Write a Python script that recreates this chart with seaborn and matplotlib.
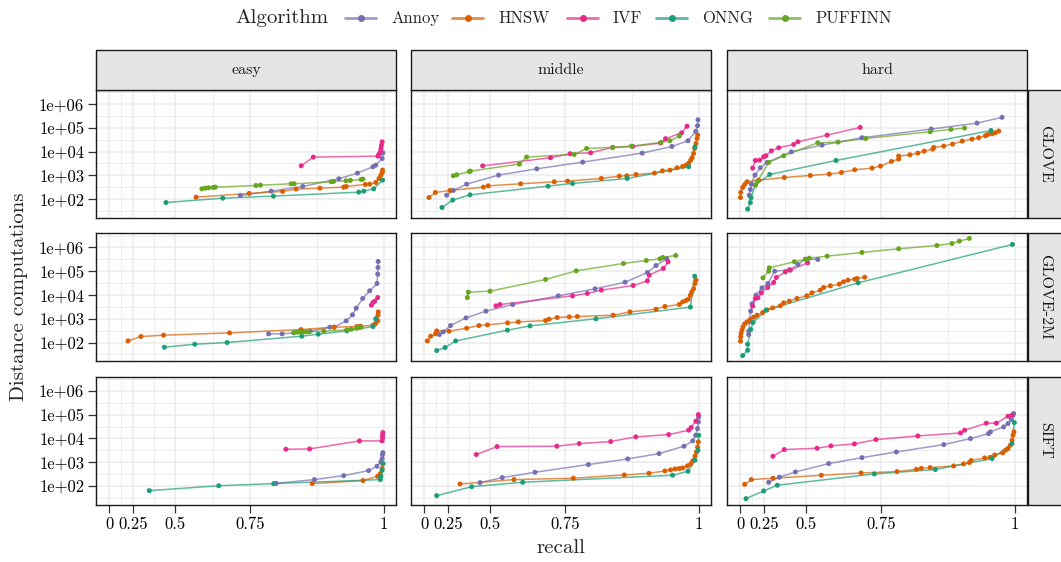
import numpy as np
import pandas as pd
import matplotlib
matplotlib.use("Agg")
import matplotlib.pyplot as plt
import seaborn as sns
from matplotlib.patches import Rectangle
from matplotlib.lines import Line2D

# ---------------- categories / labels ----------------
ALGORITHMS = ["Annoy", "HNSW", "IVF", "ONNG", "PUFFINN"]
COLORS = ["#7570B3", "#D95F02", "#E7298A", "#1B9E77", "#66A61E"]
DIFFICULTIES = ["easy", "middle", "hard"]
DATASETS = ["GLOVE", "GLOVE-2M", "SIFT"]
X_TICKS = [0, 0.25, 0.5, 0.75, 1]
X_TICK_LABELS = ["0", "0.25", "0.5", "0.75", "1"]
Y_TICKS = [1e2, 1e3, 1e4, 1e5, 1e6]
Y_TICK_LABELS = ["1e+02", "1e+03", "1e+04", "1e+05", "1e+06"]
X_LABEL = "recall"
Y_LABEL = "Distance computations"
LEGEND_TITLE = "Algorithm"

# ---------------- data: GLOVE ----------------
glove_easy_annoy_recall = [0.724, 0.800, 0.866, 0.931, 0.961, 0.9845, 0.9885, 0.9978, 0.9989]
glove_easy_annoy_dist = [143, 217, 341, 718, 1245, 2300, 2690, 5130, 8900]
glove_easy_hnsw_recall = [0.585, 0.747, 0.825, 0.853, 0.898, 0.939, 0.943, 0.973, 0.9796, 0.9886, 0.9933, 0.996, 0.998, 0.9984]
glove_easy_hnsw_dist = [121, 174, 211, 264, 290, 320, 341, 414, 428, 501, 740, 1025, 1325, 1660]
glove_easy_ivf_recall = [0.863, 0.886, 0.9918, 0.9933, 0.9952, 0.9961, 0.9968, 0.9978]
glove_easy_ivf_dist = [2520, 5860, 6460, 7850, 9800, 13500, 18600, 25700]
glove_easy_onng_recall = [0.456, 0.674, 0.805, 0.963, 0.9706, 0.9855, 0.9984]
glove_easy_onng_dist = [72, 110, 134, 197, 217, 272, 631]
glove_easy_puffinn_recall = [0.606, 0.618, 0.629, 0.644, 0.651, 0.764, 0.775, 0.843, 0.849, 0.918, 0.922, 0.9426, 0.9496, 0.9665, 0.9694]
glove_easy_puffinn_dist = [272, 290, 300, 309, 320, 376, 388, 442, 442, 537, 555, 592, 611, 673, 695]

glove_middle_annoy_recall = [0.239, 0.290, 0.378, 0.536, 0.671, 0.792, 0.911, 0.960, 0.9845, 0.9958, 0.9984, 0.999]
glove_middle_annoy_dist = [147, 232, 428, 1025, 1890, 3610, 8650, 16500, 28600, 70800, 123000, 219000]
glove_middle_hnsw_recall = [0.062, 0.134, 0.265, 0.468, 0.491, 0.619, 0.721, 0.756, 0.833, 0.869, 0.883, 0.900, 0.932, 0.945, 0.957, 0.968, 0.9766, 0.9816, 0.9855, 0.9885, 0.9906, 0.9927, 0.9943, 0.9961, 0.9976, 0.9986]
glove_middle_hnsw_dist = [117, 191, 232, 320, 364, 442, 537, 573, 741, 929, 960, 1090, 1245, 1550, 1660, 2090, 2370, 2690, 3280, 4370, 5500, 8350, 13600, 21900, 35800, 49500]
glove_middle_ivf_recall = [0.4645, 0.711, 0.762, 0.810, 0.856, 0.894, 0.942, 0.950, 0.975, 0.983]
glove_middle_ivf_dist = [2520, 5500, 8130, 8940, 15000, 16500, 22900, 35000, 62000, 117000]
glove_middle_onng_recall = [0.1985, 0.2855, 0.3976, 0.704, 0.768, 0.884, 0.9855, 0.9947]
glove_middle_onng_dist = [44.5, 91, 152, 352, 457, 741, 2300, 15900]
glove_middle_puffinn_recall = [0.290, 0.314, 0.394, 0.400, 0.6146, 0.639, 0.772, 0.801, 0.856, 0.892, 0.9427, 0.957, 0.9715]
glove_middle_puffinn_dist = [960, 1060, 1460, 1510, 2980, 5870, 7600, 13600, 15000, 17000, 24300, 28600, 45000]

glove_hard_annoy_recall = [0.112, 0.123, 0.134, 0.1706, 0.219, 0.273, 0.427, 0.566, 0.698, 0.861, 0.9427, 0.9816]
glove_hard_annoy_dist = [147, 255, 428, 1025, 2090, 3500, 9800, 18800, 38400, 88500, 158000, 276000]
glove_hard_hnsw_recall = [0.002, 0.005, 0.032, 0.058, 0.086, 0.204, 0.388, 0.518, 0.593, 0.635, 0.677, 0.726, 0.748, 0.775, 0.792, 0.792, 0.817, 0.834, 0.847, 0.864, 0.866, 0.885, 0.901, 0.918, 0.9345, 0.9455, 0.956, 0.960, 0.9665, 0.9715, 0.9766]
glove_hard_hnsw_dist = [117, 191, 309, 414, 537, 631, 813, 990, 1130, 1325, 1720, 2020, 2450, 3860, 4830, 6460, 7360, 8650, 10500, 12700, 15000, 17000, 20700, 27600, 33600, 38400, 46400, 52500, 56200, 62000, 72900]
glove_hard_ivf_recall = [0.1476, 0.174, 0.213, 0.247, 0.265, 0.305, 0.354, 0.439, 0.461, 0.585, 0.693]
glove_hard_ivf_dist = [2020, 4240, 4370, 6030, 6680, 10800, 14500, 20000, 25900, 49500, 104000]
glove_hard_onng_recall = [0.0936, 0.123, 0.130, 0.174, 0.293, 0.617, 0.9649]
glove_hard_onng_dist = [38, 72, 114, 389, 1090, 4250, 77000]
glove_hard_puffinn_recall = [0.174, 0.1955, 0.2855, 0.384, 0.549, 0.6237, 0.709, 0.859, 0.898, 0.922]
glove_hard_puffinn_dist = [389, 573, 3500, 6680, 23500, 25100, 35800, 68400, 85700, 97700]

# ---------------- data: GLOVE-2M ----------------
glove2m_easy_annoy_recall = [0.794, 0.824, 0.848, 0.8645, 0.880, 0.9155, 0.923, 0.943, 0.953, 0.959, 0.969, 0.9796, 0.9904, 0.9914, 0.9918, 0.9920]
glove2m_easy_annoy_dist = [232, 232, 255, 282, 300, 442, 442, 817, 1460, 2790, 7130, 15000, 30500, 75400, 144000, 257000]
glove2m_easy_hnsw_recall = [0.207, 0.309, 0.444, 0.694, 0.8626, 0.923, 0.960, 0.9655, 0.9845, 0.988, 0.9914, 0.9918, 0.9922]
glove2m_easy_hnsw_dist = [117, 179, 204, 255, 352, 442, 472, 487, 537, 611, 817, 1415, 1950]
glove2m_easy_ivf_recall = [0.982, 0.9845, 0.987, 0.9914]
glove2m_easy_ivf_dist = [3730, 4830, 5500, 7850]
glove2m_easy_onng_recall = [0.448, 0.580, 0.687, 0.864, 0.895, 0.944, 0.9845, 0.9885]
glove2m_easy_onng_dist = [63.5, 85, 100, 185, 224, 309, 472, 1000]
glove2m_easy_puffinn_recall = [0.849, 0.856, 0.863, 0.871, 0.877, 0.905, 0.944, 0.951, 0.960, 0.964, 0.9665]
glove2m_easy_puffinn_dist = [264, 272, 272, 282, 282, 300, 341, 364, 400, 428, 442]

glove2m_middle_annoy_recall = [0.174, 0.210, 0.270, 0.374, 0.480, 0.591, 0.732, 0.8195, 0.880, 0.920, 0.9345, 0.952]
glove2m_middle_annoy_dist = [217, 282, 520, 1090, 2090, 3980, 9220, 18200, 34700, 88500, 174000, 333000]
glove2m_middle_hnsw_recall = [0.041, 0.082, 0.137, 0.1476, 0.2575, 0.378, 0.446, 0.487, 0.572, 0.611, 0.697, 0.707, 0.729, 0.760, 0.7795, 0.857, 0.889, 0.9345, 0.949, 0.9715, 0.9766, 0.9816, 0.985, 0.988, 0.9901, 0.9927, 0.9947, 0.9961]
glove2m_middle_hnsw_dist = [117, 185, 232, 309, 300, 400, 520, 555, 673, 741, 843, 960, 1130, 1200, 1245, 1415, 1950, 2510, 3280, 3980, 5150, 5870, 6680, 9840, 13600, 18600, 30500, 42200]
glove2m_middle_ivf_recall = [0.525, 0.542, 0.768, 0.8026, 0.833, 0.895, 0.920, 0.923, 0.9465, 0.954]
glove2m_middle_ivf_dist = [3500, 3980, 9220, 11600, 16000, 25100, 39500, 68400, 131000, 249000]
glove2m_middle_onng_recall = [0.1476, 0.225, 0.307, 0.571, 0.650, 0.8216, 0.988, 0.9943]
glove2m_middle_onng_dist = [46, 61.6, 117, 331, 501, 1000, 3090, 61700]
glove2m_middle_puffinn_recall = [0.382, 0.388, 0.499, 0.697, 0.777, 0.877, 0.918, 0.941, 0.9455, 0.966]
glove2m_middle_puffinn_dist = [7850, 13200, 14500, 45000, 104000, 212000, 283000, 333000, 379000, 460000]

glove2m_hard_annoy_recall = [0.105, 0.105, 0.116, 0.127, 0.1407, 0.180, 0.233, 0.280, 0.3275, 0.416, 0.461, 0.496, 0.549]
glove2m_hard_annoy_dist = [217, 300, 794, 2090, 4250, 9840, 20000, 30500, 100000, 115000, 192000, 324000, 313000]
glove2m_hard_hnsw_recall = [0.002, 0.005, 0.0094, 0.023, 0.0365, 0.058, 0.086, 0.123, 0.1576, 0.1896, 0.239, 0.273, 0.314, 0.364, 0.384, 0.416, 0.456, 0.503, 0.525, 0.559, 0.572, 0.597, 0.628, 0.642, 0.656, 0.677, 0.684, 0.706]
glove2m_hard_hnsw_dist = [114, 174, 240, 331, 457, 611, 741, 929, 1170, 1415, 1820, 2370, 2880, 3500, 4680, 5500, 7130, 9220, 12300, 16000, 20700, 24300, 28600, 35800, 42200, 46400, 49500, 56200]
glove2m_hard_ivf_recall = [0.1476, 0.174, 0.1985, 0.2275, 0.278, 0.321, 0.3386, 0.394, 0.4217, 0.506]
glove2m_hard_ivf_dist = [3390, 7130, 7600, 12300, 20700, 33600, 54600, 94400, 111000, 226000]
glove2m_hard_onng_recall = [0.032, 0.0936, 0.0936, 0.127, 0.151, 0.265, 0.687, 0.9968]
glove2m_hard_onng_dist = [28.4, 47.5, 85, 352, 692, 2290, 32500, 1340000]
glove2m_hard_puffinn_recall = [0.2414, 0.2855, 0.290, 0.4427, 0.499, 0.514, 0.585, 0.698, 0.792, 0.872, 0.900, 0.913, 0.930]
glove2m_hard_puffinn_dist = [52800, 100000, 139000, 251000, 313000, 355000, 431000, 616000, 880000, 1210000, 1470000, 1850000, 2400000]

# ---------------- data: SIFT ----------------
sift_easy_annoy_recall = [0.811, 0.888, 0.939, 0.978, 0.9904, 0.996, 0.9978, 0.9984, 0.9989]
sift_easy_annoy_dist = [129, 185, 272, 442, 673, 1025, 1415, 2090, 2510]
sift_easy_hnsw_recall = [0.884, 0.9695, 0.9914, 0.9952, 0.9978, 0.9989]
sift_easy_hnsw_dist = [125, 168, 255, 331, 537, 871]
sift_easy_ivf_recall = [0.832, 0.879, 0.964, 0.9978, 0.9984, 0.9984, 0.9989]
sift_easy_ivf_dist = [3500, 3610, 7850, 7850, 10500, 13600, 17600]
sift_easy_onng_recall = [0.364, 0.6615, 0.8056, 0.9952, 0.996, 0.9978, 0.9989]
sift_easy_onng_dist = [63.5, 102, 125, 185, 255, 457, 871]

sift_middle_annoy_recall = [0.451, 0.551, 0.6656, 0.805, 0.885, 0.9395, 0.9786, 0.9914, 0.9957, 0.9984, 0.9995, 1.0]
sift_middle_annoy_dist = [138, 224, 376, 794, 1370, 2290, 4680, 7850, 13600, 25900, 49500, 79400]
sift_middle_hnsw_recall = [0.3365, 0.5955, 0.770, 0.8786, 0.9227, 0.949, 0.958, 0.9649, 0.9715, 0.9766, 0.9835, 0.9884, 0.9914, 0.9947, 0.9968, 0.9984, 0.9995]
sift_middle_hnsw_dist = [121, 185, 211, 290, 341, 428, 472, 520, 537, 573, 695, 843, 1130, 1780, 2690, 4370, 7130]
sift_middle_ivf_recall = [0.432, 0.5295, 0.728, 0.784, 0.852, 0.8996, 0.955, 0.9855, 0.989, 0.996, 0.9995]
sift_middle_ivf_dist = [2090, 4530, 4680, 6030, 7360, 11600, 14500, 22100, 28600, 52800, 100000]
sift_middle_onng_recall = [0.1476, 0.407, 0.626, 0.961, 0.9845, 0.9947, 0.999, 1.0]
sift_middle_onng_dist = [39, 93, 143, 282, 414, 1200, 3160, 13600]

sift_hard_annoy_recall = [0.2855, 0.3576, 0.448, 0.591, 0.698, 0.7866, 0.885, 0.932, 0.961, 0.964, 0.984, 0.9904, 0.9952, 0.9976, 0.9984]
sift_hard_annoy_dist = [143, 232, 389, 871, 1550, 2690, 5500, 9840, 15900, 18800, 30500, 42200, 63100, 94400, 111000]
sift_hard_hnsw_recall = [0.058, 0.134, 0.316, 0.563, 0.6955, 0.788, 0.831, 0.841, 0.859, 0.903, 0.9204, 0.930, 0.933, 0.955, 0.9638, 0.9706, 0.9825, 0.9866, 0.9904, 0.9937, 0.9961, 0.9976, 0.999]
sift_hard_hnsw_dist = [117, 185, 211, 282, 352, 400, 501, 550, 589, 692, 843, 960, 1170, 1510, 1610, 2000, 2450, 3160, 3730, 5150, 8320, 13600, 18800]
sift_hard_ivf_recall = [0.316, 0.3875, 0.546, 0.599, 0.676, 0.7365, 0.834, 0.915, 0.922, 0.9576, 0.973, 0.9904, 0.996]
sift_hard_ivf_dist = [1780, 3390, 3860, 4830, 5860, 8920, 12700, 17000, 22100, 43600, 43600, 85700, 94400]
sift_hard_onng_recall = [0.074, 0.247, 0.345, 0.732, 0.869, 0.9665, 0.996, 0.9995]
sift_hard_onng_dist = [29.3, 61.6, 107, 320, 490, 1415, 6030, 46400]

SERIES = [
    ("GLOVE", "easy", "Annoy", glove_easy_annoy_recall, glove_easy_annoy_dist),
    ("GLOVE", "easy", "HNSW", glove_easy_hnsw_recall, glove_easy_hnsw_dist),
    ("GLOVE", "easy", "IVF", glove_easy_ivf_recall, glove_easy_ivf_dist),
    ("GLOVE", "easy", "ONNG", glove_easy_onng_recall, glove_easy_onng_dist),
    ("GLOVE", "easy", "PUFFINN", glove_easy_puffinn_recall, glove_easy_puffinn_dist),
    ("GLOVE", "middle", "Annoy", glove_middle_annoy_recall, glove_middle_annoy_dist),
    ("GLOVE", "middle", "HNSW", glove_middle_hnsw_recall, glove_middle_hnsw_dist),
    ("GLOVE", "middle", "IVF", glove_middle_ivf_recall, glove_middle_ivf_dist),
    ("GLOVE", "middle", "ONNG", glove_middle_onng_recall, glove_middle_onng_dist),
    ("GLOVE", "middle", "PUFFINN", glove_middle_puffinn_recall, glove_middle_puffinn_dist),
    ("GLOVE", "hard", "Annoy", glove_hard_annoy_recall, glove_hard_annoy_dist),
    ("GLOVE", "hard", "HNSW", glove_hard_hnsw_recall, glove_hard_hnsw_dist),
    ("GLOVE", "hard", "IVF", glove_hard_ivf_recall, glove_hard_ivf_dist),
    ("GLOVE", "hard", "ONNG", glove_hard_onng_recall, glove_hard_onng_dist),
    ("GLOVE", "hard", "PUFFINN", glove_hard_puffinn_recall, glove_hard_puffinn_dist),
    ("GLOVE-2M", "easy", "Annoy", glove2m_easy_annoy_recall, glove2m_easy_annoy_dist),
    ("GLOVE-2M", "easy", "HNSW", glove2m_easy_hnsw_recall, glove2m_easy_hnsw_dist),
    ("GLOVE-2M", "easy", "IVF", glove2m_easy_ivf_recall, glove2m_easy_ivf_dist),
    ("GLOVE-2M", "easy", "ONNG", glove2m_easy_onng_recall, glove2m_easy_onng_dist),
    ("GLOVE-2M", "easy", "PUFFINN", glove2m_easy_puffinn_recall, glove2m_easy_puffinn_dist),
    ("GLOVE-2M", "middle", "Annoy", glove2m_middle_annoy_recall, glove2m_middle_annoy_dist),
    ("GLOVE-2M", "middle", "HNSW", glove2m_middle_hnsw_recall, glove2m_middle_hnsw_dist),
    ("GLOVE-2M", "middle", "IVF", glove2m_middle_ivf_recall, glove2m_middle_ivf_dist),
    ("GLOVE-2M", "middle", "ONNG", glove2m_middle_onng_recall, glove2m_middle_onng_dist),
    ("GLOVE-2M", "middle", "PUFFINN", glove2m_middle_puffinn_recall, glove2m_middle_puffinn_dist),
    ("GLOVE-2M", "hard", "Annoy", glove2m_hard_annoy_recall, glove2m_hard_annoy_dist),
    ("GLOVE-2M", "hard", "HNSW", glove2m_hard_hnsw_recall, glove2m_hard_hnsw_dist),
    ("GLOVE-2M", "hard", "IVF", glove2m_hard_ivf_recall, glove2m_hard_ivf_dist),
    ("GLOVE-2M", "hard", "ONNG", glove2m_hard_onng_recall, glove2m_hard_onng_dist),
    ("GLOVE-2M", "hard", "PUFFINN", glove2m_hard_puffinn_recall, glove2m_hard_puffinn_dist),
    ("SIFT", "easy", "Annoy", sift_easy_annoy_recall, sift_easy_annoy_dist),
    ("SIFT", "easy", "HNSW", sift_easy_hnsw_recall, sift_easy_hnsw_dist),
    ("SIFT", "easy", "IVF", sift_easy_ivf_recall, sift_easy_ivf_dist),
    ("SIFT", "easy", "ONNG", sift_easy_onng_recall, sift_easy_onng_dist),
    ("SIFT", "middle", "Annoy", sift_middle_annoy_recall, sift_middle_annoy_dist),
    ("SIFT", "middle", "HNSW", sift_middle_hnsw_recall, sift_middle_hnsw_dist),
    ("SIFT", "middle", "IVF", sift_middle_ivf_recall, sift_middle_ivf_dist),
    ("SIFT", "middle", "ONNG", sift_middle_onng_recall, sift_middle_onng_dist),
    ("SIFT", "hard", "Annoy", sift_hard_annoy_recall, sift_hard_annoy_dist),
    ("SIFT", "hard", "HNSW", sift_hard_hnsw_recall, sift_hard_hnsw_dist),
    ("SIFT", "hard", "IVF", sift_hard_ivf_recall, sift_hard_ivf_dist),
    ("SIFT", "hard", "ONNG", sift_hard_onng_recall, sift_hard_onng_dist),
]

rows = []
for ds, diff, algo, rec, dist in SERIES:
    for i, (r, d) in enumerate(zip(rec, dist)):
        rows.append({"dataset": ds, "difficulty": diff, "algorithm": algo,
                     "recall": r, "dist": d, "order": i})
df = pd.DataFrame(rows)

# ---------------- style ----------------
sns.set_theme(style="white")
plt.rcParams["font.family"] = "serif"
plt.rcParams["font.serif"] = ["cmr10", "DejaVu Serif"]
plt.rcParams["mathtext.fontset"] = "cm"
plt.rcParams["axes.formatter.use_mathtext"] = True

PALETTE = dict(zip(ALGORITHMS, COLORS))
W, H = 1061, 562
fig = plt.figure(figsize=(W / 100, H / 100), dpi=100)
fig.patch.set_facecolor("white")


def fx(px):
    return px / W


def fy(py):
    return 1 - py / H


COL_LEFT = [96, 411, 727]
PANEL_W = 300
ROW_TOP = [89.8, 233.2, 376.6]
PANEL_H = 128
STRIP_TOP = 50
STRIP_RIGHT_W = 36
BORDER = "#1a1a1a"
GRID = "#ebebeb"
STRIP_FILL = "#e5e5e5"

XLIM = (-0.25, 1.0172)
YLIM = (10 ** 1.215, 10 ** 6.60)


def fwd(x):
    return np.power(10.0, x)


def inv(y):
    return np.log10(np.clip(y, 1e-12, None))


# minor grid: midpoints of major breaks in transformed space
X_MINOR = [np.log10((10 ** a + 10 ** b) / 2) for a, b in zip(X_TICKS[:-1], X_TICKS[1:])]
Y_MINOR = [10 ** (k + 0.5) for k in range(1, 7)]
Y_MAJOR_GRID = [10 ** k for k in range(1, 7)]

for r, ds in enumerate(DATASETS):
    for c, diff in enumerate(DIFFICULTIES):
        left, top = COL_LEFT[c], ROW_TOP[r]
        ax = fig.add_axes([fx(left), fy(top + PANEL_H), PANEL_W / W, PANEL_H / H])
        sub = df[(df.dataset == ds) & (df.difficulty == diff)]
        present = [a for a in ALGORITHMS if a in set(sub.algorithm)]
        sns.lineplot(data=sub, x="recall", y="dist", hue="algorithm",
                     hue_order=present, palette=PALETTE, estimator=None,
                     sort=False, alpha=0.7, linewidth=1.1, legend=False, ax=ax,
                     zorder=2)
        sns.scatterplot(data=sub, x="recall", y="dist", hue="algorithm",
                        hue_order=present, palette=PALETTE, s=13,
                        linewidth=0, legend=False, ax=ax, zorder=3)
        ax.set_xscale("function", functions=(fwd, inv))
        ax.set_yscale("log")
        ax.set_xlim(*XLIM)
        ax.set_ylim(*YLIM)

        # grid
        for xm in X_MINOR:
            ax.axvline(xm, color=GRID, lw=0.6, zorder=0)
        for xm in X_TICKS:
            ax.axvline(xm, color=GRID, lw=1.1, zorder=0)
        for ym in Y_MINOR:
            ax.axhline(ym, color=GRID, lw=0.6, zorder=0)
        for ym in Y_MAJOR_GRID:
            ax.axhline(ym, color=GRID, lw=1.1, zorder=0)

        ax.set_xticks(X_TICKS)
        ax.set_xticks([], minor=True)
        ax.set_yticks(Y_TICKS)
        ax.set_yticks([], minor=True)
        if r == len(DATASETS) - 1:
            ax.set_xticklabels(X_TICK_LABELS)
        else:
            ax.set_xticklabels([])
        if c == 0:
            ax.set_yticklabels(Y_TICK_LABELS)
        else:
            ax.set_yticklabels([])
        ax.tick_params(axis="both", which="major", direction="out", length=5.5,
                       width=0.9, color="#333333", labelsize=12, labelcolor="black",
                       pad=3.0)
        ax.tick_params(axis="x", bottom=(r == len(DATASETS) - 1), top=False)
        ax.tick_params(axis="y", left=(c == 0), right=False)
        ax.set_xlabel("")
        ax.set_ylabel("")
        for sp in ax.spines.values():
            sp.set_visible(True)
            sp.set_color(BORDER)
            sp.set_linewidth(1.0)
            sp.set_zorder(5)

        # top strip
        if r == 0:
            rect = Rectangle((fx(left), fy(top)), PANEL_W / W, (top - STRIP_TOP) / H,
                             transform=fig.transFigure, facecolor=STRIP_FILL,
                             edgecolor=BORDER, linewidth=1.0, zorder=1)
            fig.add_artist(rect)
            fig.text(fx(left + PANEL_W / 2), fy((top + STRIP_TOP) / 2), diff,
                     ha="center", va="center", fontsize=11.5, color="#1a1a1a")
        # right strip
        if c == len(DIFFICULTIES) - 1:
            sx = left + PANEL_W + 1
            rect = Rectangle((fx(sx), fy(top + PANEL_H)), STRIP_RIGHT_W / W, PANEL_H / H,
                             transform=fig.transFigure, facecolor=STRIP_FILL,
                             edgecolor=BORDER, linewidth=1.0, zorder=1)
            fig.add_artist(rect)
            fig.text(fx(sx + 17), fy(top + PANEL_H / 2), ds, rotation=-90,
                     ha="center", va="center", fontsize=11.5, color="#1a1a1a")

# axis titles
fig.text(fx(561), fy(548), X_LABEL, ha="center", va="center", fontsize=15)
fig.text(fx(19), fy(297), Y_LABEL, ha="center", va="center", rotation=90, fontsize=15)

# legend
LEG_Y = 18
fig.text(fx(235), fy(LEG_Y), LEGEND_TITLE, ha="left", va="center", fontsize=15)
KEY_X = [345, 452, 567, 656, 769]
for algo, col, kx in zip(ALGORITHMS, COLORS, KEY_X):
    fig.add_artist(Line2D([fx(kx), fx(kx + 31)], [fy(LEG_Y), fy(LEG_Y)],
                          transform=fig.transFigure, color=col, alpha=0.7, lw=2.0))
    fig.add_artist(Line2D([fx(kx + 15.5)], [fy(LEG_Y)], transform=fig.transFigure,
                          color=col, marker="o", markersize=4, linestyle="none"))
    fig.text(fx(kx + 46), fy(LEG_Y), algo, ha="left", va="center", fontsize=12)

fig.savefig("out.png", dpi=100, facecolor="white")
